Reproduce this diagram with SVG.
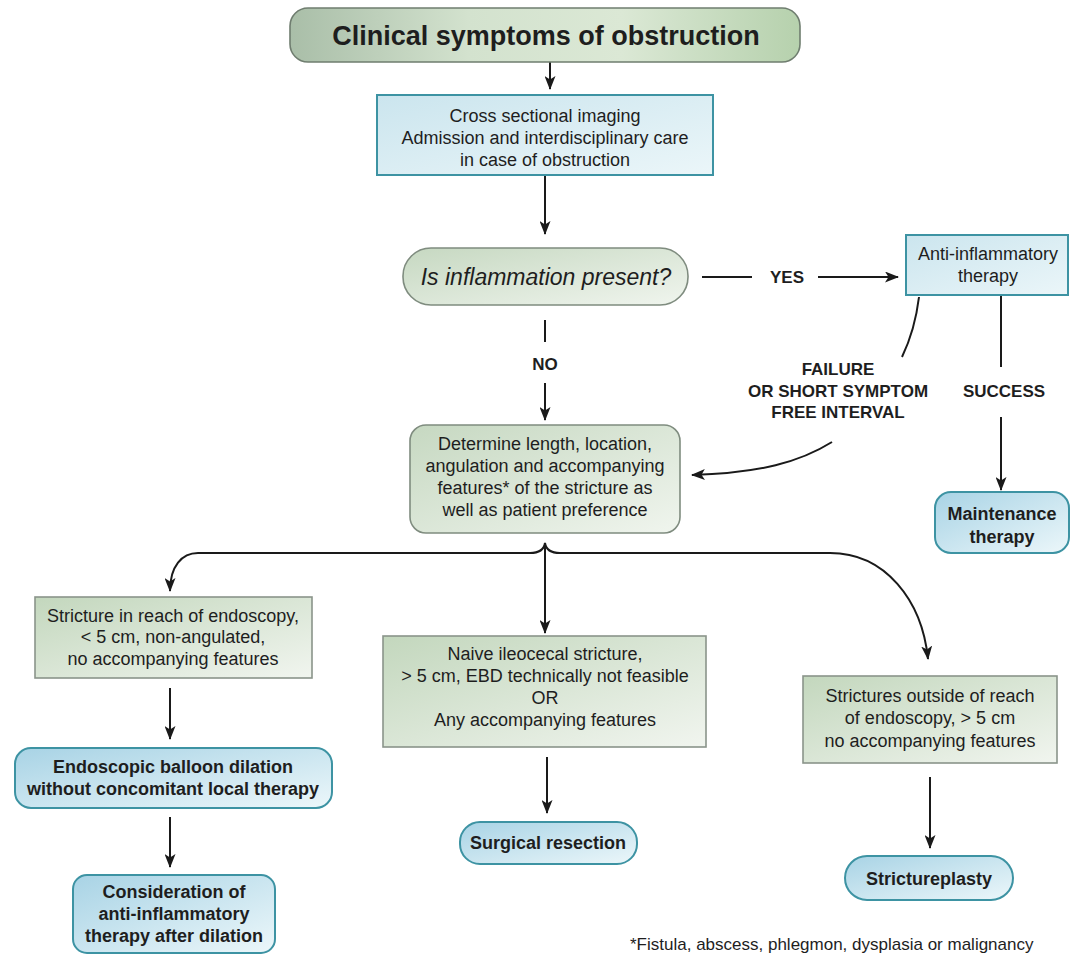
<svg xmlns="http://www.w3.org/2000/svg" width="1072" height="956" viewBox="0 0 1072 956">
<defs>
<style>
text{font-family:"Liberation Sans",Arial,sans-serif;fill:#1e1e1e;text-anchor:middle}
.t{font-size:18px}
.b{font-size:18px;font-weight:bold}
.lbl{font-size:17px;font-weight:bold}
.c{fill:none;stroke:#1a1a1a;stroke-width:2}
.a{marker-end:url(#ah)}
.blue{fill:url(#gBlue);stroke:#3d93a3;stroke-width:2}
.out{fill:url(#gOut);stroke:#3d93a3;stroke-width:2}
.grn{fill:url(#gGrn);stroke:#8a948a;stroke-width:1.6}
.pill{fill:url(#gPill);stroke:#7f8c7f;stroke-width:1.6}
</style>
<linearGradient id="gTitle" x1="0" y1="0" x2="1" y2="0">
<stop offset="0" stop-color="#a9bea8"/><stop offset="0.35" stop-color="#d3e2ce"/><stop offset="0.65" stop-color="#dbe8d5"/><stop offset="1" stop-color="#b6d1ad"/>
</linearGradient>
<linearGradient id="gBlue" x1="0" y1="0" x2="1" y2="1">
<stop offset="0" stop-color="#cbe5ee"/><stop offset="1" stop-color="#ebf6f9"/>
</linearGradient>
<linearGradient id="gOut" x1="0" y1="0" x2="1" y2="1">
<stop offset="0" stop-color="#a8d3e5"/><stop offset="1" stop-color="#ecf7fa"/>
</linearGradient>
<linearGradient id="gGrn" x1="0" y1="0" x2="1" y2="1">
<stop offset="0" stop-color="#c3d7bd"/><stop offset="1" stop-color="#f1f5ef"/>
</linearGradient>
<linearGradient id="gPill" x1="0" y1="0" x2="1" y2="1">
<stop offset="0" stop-color="#c6d8c1"/><stop offset="1" stop-color="#f0f5ee"/>
</linearGradient>
<marker id="ah" viewBox="0 0 14 11" refX="13" refY="5.5" markerWidth="14" markerHeight="11" markerUnits="userSpaceOnUse" orient="auto">
<path d="M0,0 L14,5.5 L0,11 L3.5,5.5 z" fill="#1a1a1a"/>
</marker>
</defs>
<rect width="1072" height="956" fill="#ffffff"/>

<g id="connectors">
<path class="c a" d="M550,62 V89"/>
<path class="c a" d="M545,176 V234"/>
<path class="c" d="M702,277 H752"/>
<path class="c a" d="M818,277 H898"/>
<path class="c" d="M545,320 V342"/>
<path class="c a" d="M545,383 V420"/>
<path class="c" d="M919,297 Q915,330 902,357"/>
<path class="c a" d="M832,442 C800,462 760,473 692,475"/>
<path class="c" d="M1001,296 V367"/>
<path class="c a" d="M1001,417 V490"/>
<path class="c a" d="M531,553 H198 C182,553 170,566 170,591"/>
<path class="c a" d="M559,553 H830 C885,553 922,600 928,659"/>
<path class="c" d="M530,553 C539,553 544,550 545,543 C546,550 551,553 560,553"/>
<path class="c a" d="M545,546 V633"/>
<path class="c a" d="M170,688 V739"/>
<path class="c a" d="M170,817 V867"/>
<path class="c a" d="M547,757 V813"/>
<path class="c a" d="M930,777 V848"/>
<text class="lbl" x="787" y="283">YES</text>
<text class="lbl" x="545" y="370">NO</text>
<text class="lbl" x="838" y="375">FAILURE</text>
<text class="lbl" x="838" y="397">OR SHORT SYMPTOM</text>
<text class="lbl" x="838" y="418">FREE INTERVAL</text>
<text class="lbl" x="1004" y="397">SUCCESS</text>
</g>

<g id="n-title">
<rect x="290" y="8" width="510" height="54" rx="18" fill="url(#gTitle)" stroke="#6f7d6f" stroke-width="1.6"/>
<text x="546" y="45" style="font-size:27px;font-weight:bold">Clinical symptoms of obstruction</text>
</g>

<g id="n-imaging">
<rect class="blue" x="377" y="95" width="336" height="80"/>
<text class="t" x="545" y="122">Cross sectional imaging</text>
<text class="t" x="545" y="144">Admission and interdisciplinary care</text>
<text class="t" x="545" y="166">in case of obstruction</text>
</g>

<g id="n-inflammation">
<rect class="pill" x="403" y="248" width="285" height="57" rx="28"/>
<text x="546" y="285" style="font-size:23px;font-style:italic">Is inflammation present?</text>
</g>

<g id="n-antiinflammatory">
<rect class="blue" x="906" y="235" width="162" height="60"/>
<text class="t" x="988" y="260">Anti-inflammatory</text>
<text class="t" x="988" y="282">therapy</text>
</g>

<g id="n-maintenance">
<rect class="out" x="935" y="492" width="134" height="61" rx="16"/>
<text class="b" x="1002" y="520">Maintenance</text>
<text class="b" x="1002" y="543">therapy</text>
</g>

<g id="n-determine">
<rect class="pill" x="410" y="425" width="270" height="108" rx="16"/>
<text class="t" x="545" y="450">Determine length, location,</text>
<text class="t" x="545" y="472">angulation and accompanying</text>
<text class="t" x="545" y="494">features* of the stricture as</text>
<text class="t" x="545" y="516">well as patient preference</text>
</g>

<g id="n-reach">
<rect class="grn" x="35" y="597" width="277" height="81"/>
<text class="t" x="173" y="622">Stricture in reach of endoscopy,</text>
<text class="t" x="173" y="643">&lt; 5 cm, non-angulated,</text>
<text class="t" x="173" y="665">no accompanying features</text>
</g>

<g id="n-ebd">
<rect class="out" x="15" y="748" width="317" height="60" rx="16"/>
<text class="b" x="173" y="773">Endoscopic balloon dilation</text>
<text class="b" x="173" y="795">without concomitant local therapy</text>
</g>

<g id="n-consideration">
<rect class="out" x="73" y="875" width="202" height="78" rx="14"/>
<text class="b" x="174" y="898">Consideration of</text>
<text class="b" x="174" y="920">anti-inflammatory</text>
<text class="b" x="174" y="942">therapy after dilation</text>
</g>

<g id="n-naive">
<rect class="grn" x="383" y="636" width="323" height="111"/>
<text class="t" x="545" y="660">Naive ileocecal stricture,</text>
<text class="t" x="545" y="682">&gt; 5 cm, EBD technically not feasible</text>
<text class="t" x="545" y="704">OR</text>
<text class="t" x="545" y="726">Any accompanying features</text>
</g>

<g id="n-surgical">
<rect class="out" x="460" y="822" width="177" height="42" rx="20"/>
<text class="b" x="548" y="849">Surgical resection</text>
</g>

<g id="n-outside">
<rect class="grn" x="803" y="676" width="254" height="87"/>
<text class="t" x="930" y="702">Strictures outside of reach</text>
<text class="t" x="930" y="724">of endoscopy, &gt; 5 cm</text>
<text class="t" x="930" y="747">no accompanying features</text>
</g>

<g id="n-strictureplasty">
<rect class="out" x="845" y="856" width="168" height="44" rx="22"/>
<text class="b" x="929" y="885">Strictureplasty</text>
</g>

<g id="footnote">
<text x="630" y="950" style="text-anchor:start;font-size:17px">*Fistula, abscess, phlegmon, dysplasia or malignancy</text>
</g>
</svg>
